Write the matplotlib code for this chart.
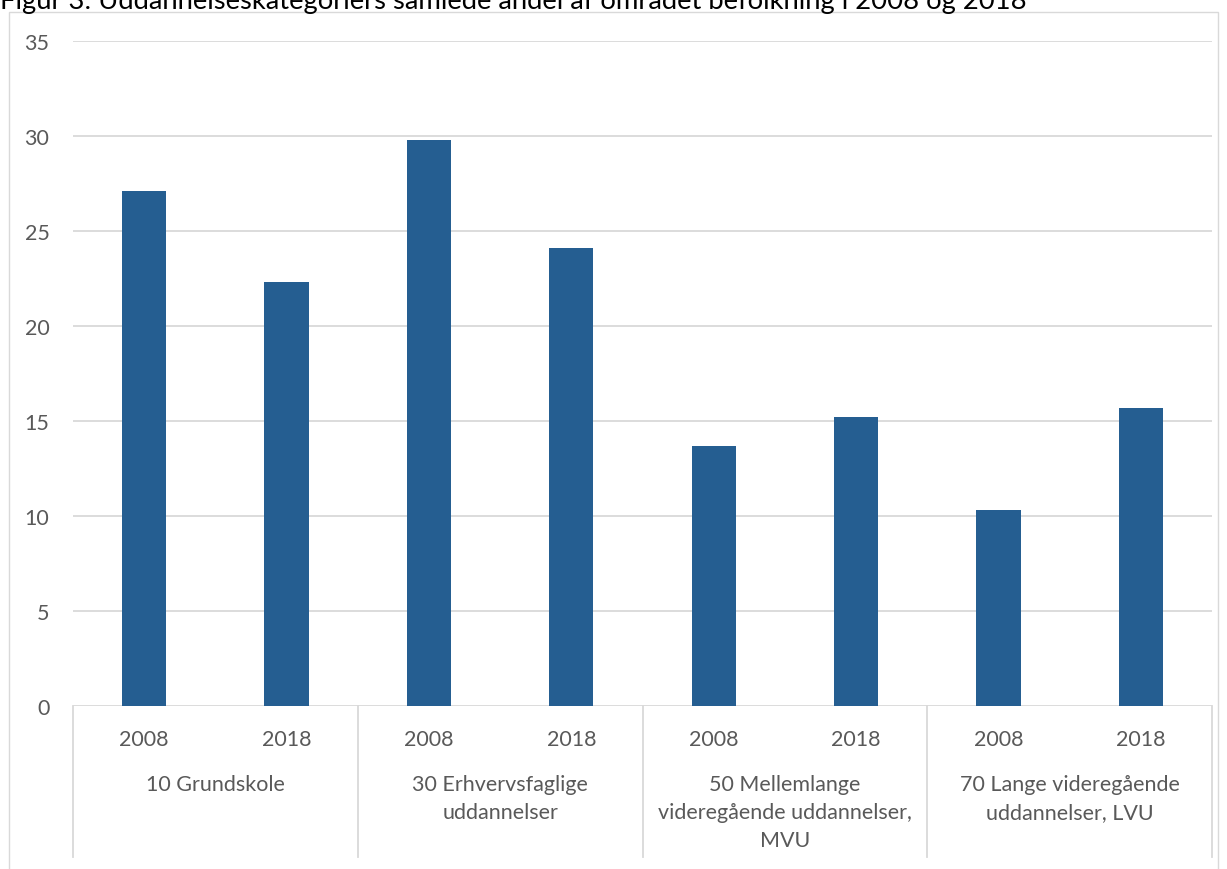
import matplotlib
matplotlib.use("Agg")
import matplotlib.pyplot as plt
import matplotlib.transforms as mtransforms
from matplotlib.patches import Rectangle

plt.rcParams['font.family'] = ['Lato', 'DejaVu Sans']

title = "Figur 3: Uddannelseskategoriers samlede andel af området befolkning i 2008 og 2018"
categories = ["10 Grundskole", "30 Erhvervsfaglige\nuddannelser",
              "50 Mellemlange\nvideregående uddannelser,\nMVU",
              "70 Lange videregående\nuddannelser, LVU"]
years = ["2008", "2018"]
values = [27.1, 22.3, 29.8, 24.1, 13.7, 15.2, 10.3, 15.7]

W, H = 1227, 870
fig = plt.figure(figsize=(W / 100, H / 100), dpi=100)

# chart border (bottom runs off the image)
fig.patches.append(Rectangle((9 / W, -0.1), (1218 - 9) / W, 1.1 - 13 / H,
                             transform=fig.transFigure, fill=False,
                             edgecolor="#d9d9d9", linewidth=1))

ax = fig.add_axes([73 / W, 1 - 707 / H, (1212 - 73) / W, (707 - 42) / H])

x = list(range(len(values)))
ax.bar(x, values, width=0.31, color="#255e91", zorder=3)

ax.set_xlim(-0.5, len(values) - 0.5)
ax.set_ylim(0, 35)
ax.set_yticks(range(0, 36, 5))
ax.yaxis.grid(True, color="#d9d9d9", linewidth=1.3, zorder=0)
for s in ax.spines.values():
    s.set_visible(False)
ax.tick_params(axis="y", length=0, pad=17, labelsize=15.5, labelcolor="#595959")
ax.tick_params(axis="x", length=0, pad=24, labelsize=15.5, labelcolor="#595959")
ax.set_xticks(x)
ax.set_xticklabels(years * len(categories))
for lbl in ax.get_xticklabels():
    lbl.set_va("center")

trans = mtransforms.blended_transform_factory(ax.transData, ax.transAxes)
axes_px = 707 - 42
for i in range(len(categories) + 1):
    xs = i * 2 - 0.5
    ax.plot([xs, xs], [0, -(858 - 707) / axes_px], transform=trans,
            color="#d9d9d9", linewidth=1.3, clip_on=False)

for i, cat in enumerate(categories):
    ax.text(i * 2 + 0.5, -(775 - 707) / axes_px, cat, transform=trans,
            ha="center", va="top", fontsize=15.5, color="#595959",
            linespacing=1.5)

fig.text(0 / W, 1 - 9 / H, title, ha="left", va="baseline",
         fontsize=19.7, color="black")

fig.savefig("out.png", dpi=100)
